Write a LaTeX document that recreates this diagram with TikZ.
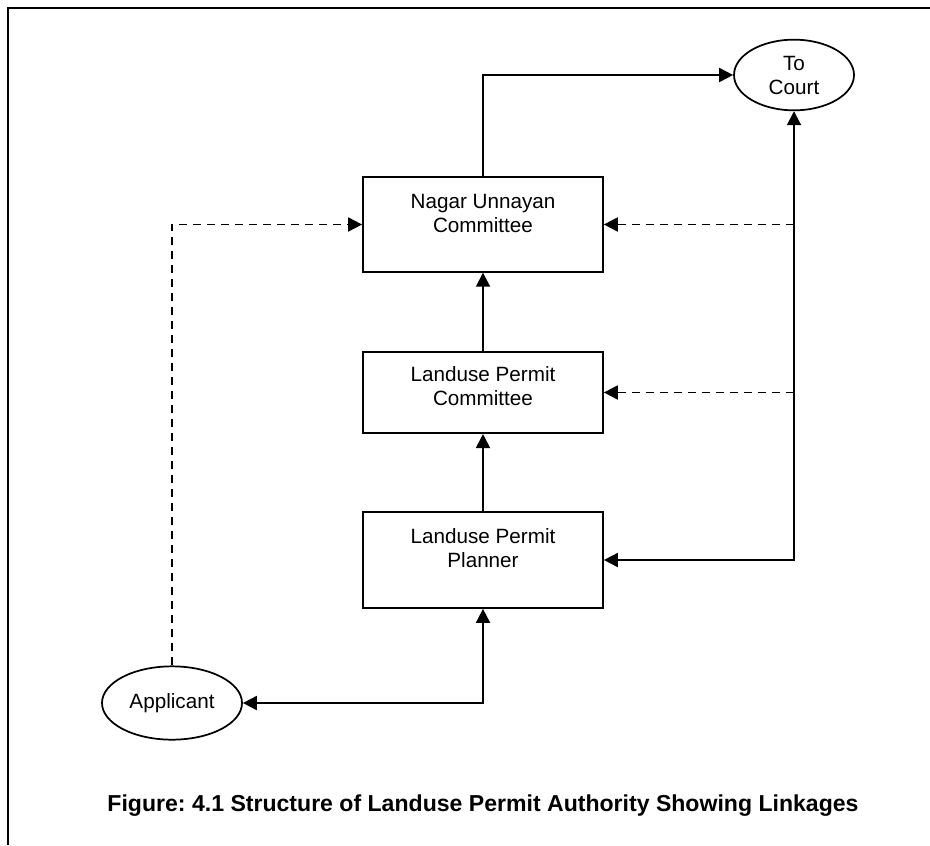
\documentclass[tikz,border=0pt]{standalone}
\usepackage{fontspec}
\setmainfont{Liberation Sans}
\usetikzlibrary{shapes.geometric,arrows.meta}

\begin{document}
\frenchspacing
\begin{tikzpicture}[x=0.75pt, y=-0.75pt,
  box/.style={draw, line width=1.3pt, minimum width=180pt, inner sep=0pt},
  boxtext/.style={align=center, font=\fontsize{15.5}{18}\selectfont},
  oval/.style={draw, ellipse, line width=1.3pt, inner sep=0pt, align=center,
    font=\fontsize{15.5}{18}\selectfont},
  link/.style={line width=1.4pt, -{Triangle[length=10.5pt,width=10.5pt]}},
  twoway/.style={line width=1.4pt,
    {Triangle[length=10.5pt,width=10.5pt]}-{Triangle[length=10.5pt,width=10.5pt]}},
  feedback/.style={link, dash pattern=on 6pt off 4.5pt}]

\useasboundingbox (0,0) rectangle (930,845);
\draw[line width=2pt] (930,8) -- (8,8) -- (8,845);

\node[box, minimum height=71pt,
  label={[boxtext, yshift=8pt]center:Nagar Unnayan\\Committee}] (nuc) at (483,224.5) {};
\node[box, minimum height=61pt,
  label={[boxtext, yshift=4.5pt]center:Landuse Permit\\Committee}] (lpc) at (483,392.5) {};
\node[box, minimum height=72pt,
  label={[boxtext, yshift=9pt]center:Landuse Permit\\Planner}] (lpp) at (483,560) {};

\node[oval, minimum width=90pt, minimum height=53pt] (court) at (794,75) {To\\Court};
\node[oval, minimum width=105pt, minimum height=55pt] (app) at (172,703) {Applicant};

\draw[link] (nuc.north) |- (court.west);
\draw[link] (lpc.north) -- (nuc.south);
\draw[link] (lpp.north) -- (lpc.south);
\draw[twoway] (lpp.east) -| (court.south);
\draw[twoway] (app.east) -| (lpp.south);

\coordinate (nucjoin) at (court.south |- nuc.east);
\coordinate (lpcjoin) at (court.south |- lpc.east);
\draw[feedback] (nucjoin) -- (nuc.east);
\draw[feedback] (lpcjoin) -- (lpc.east);
\draw[feedback] (app.north) |- (nuc.west);

\node[font=\fontsize{17.3}{20}\selectfont\bfseries] (caption) at (483,806)
  {Figure: 4.1 Structure of Landuse Permit Authority Showing Linkages};

\end{tikzpicture}
\end{document}
